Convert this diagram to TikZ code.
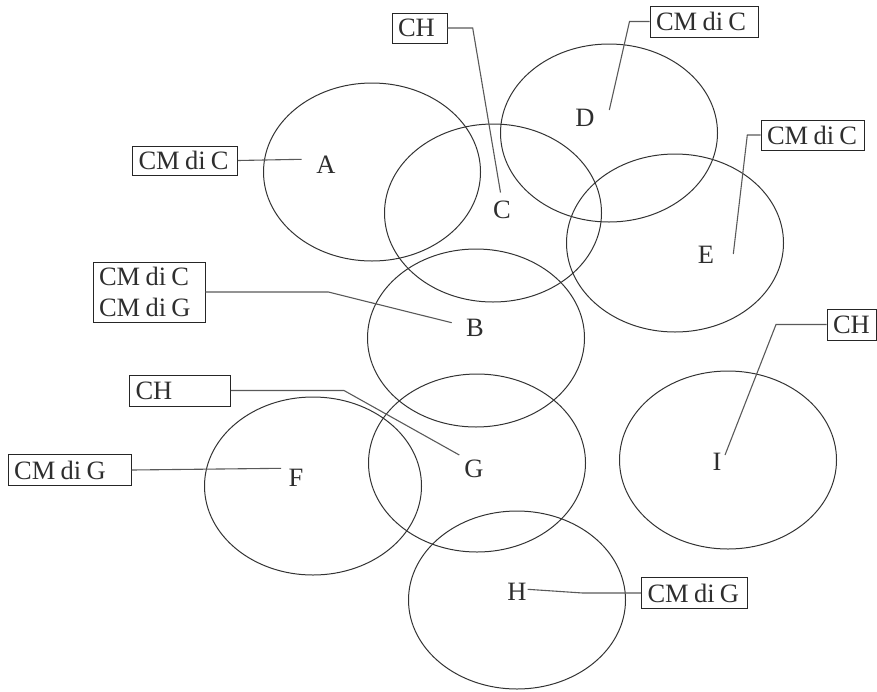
\documentclass[tikz,border=0pt]{standalone}
\usepackage{fontspec}
\setmainfont{Liberation Serif}
% tight word gap used inside the tag texts
\newcommand\wgap{\hspace{0.2em}}
\begin{document}
\begin{tikzpicture}[x=1pt,y=-1pt,
  set/.style={draw=black!80, line width=1pt},
  lbl/.style={text=black!82, inner sep=0pt, font=\fontsize{26.5}{31}\selectfont},
  tag/.style={draw=black!85, line width=0.9pt, text=black!82, inner xsep=6pt, inner ysep=0pt,
              align=left, font=\fontsize{26.5}{31}\selectfont},
  lead/.style={draw=black!65, line width=1.1pt}]
\useasboundingbox (0,0) rectangle (877,691);

% sets
\draw[set] (372,172) ellipse [x radius=108.5, y radius=89];   % A
\draw[set] (493,213) ellipse [x radius=108.5, y radius=89];   % C
\draw[set] (609,133) ellipse [x radius=108.5, y radius=89];   % D
\draw[set] (675,243) ellipse [x radius=108.5, y radius=89];   % E
\draw[set] (476,338) ellipse [x radius=108.5, y radius=89];   % B
\draw[set] (477,463) ellipse [x radius=108.5, y radius=89];   % G
\draw[set] (313,486) ellipse [x radius=108.5, y radius=89];   % F
\draw[set] (517,600) ellipse [x radius=108.5, y radius=89];   % H
\draw[set] (728,460) ellipse [x radius=108.5, y radius=89];   % I

% set letters
\node[lbl] (A) at (326,165) {A};
\node[lbl] (C) at (502,210) {C};
\node[lbl] (D) at (585,118) {D};
\node[lbl] (E) at (706,255) {E};
\node[lbl] (B) at (475,328) {B};
\node[lbl] (G) at (474,469) {G};
\node[lbl] (F) at (296,478) {F};
\node[lbl] (H) at (517,592) {H};
\node[lbl] (I) at (717,462) {I};

% tags
\node[tag, minimum width=55, minimum height=30, text width=43] (tC) at (419.5,28) {\mbox{CH}};
\node[tag, minimum width=108, minimum height=31, text width=96] (tD) at (704,21.5) {\mbox{CM\wgap di\wgap C}};
\node[tag, minimum width=103, minimum height=30, text width=91] (tE) at (812.5,135) {\mbox{CM\wgap di\wgap C}};
\node[tag, minimum width=105, minimum height=29, text width=93] (tA) at (185,160.5) {\mbox{CM\wgap di\wgap C}};
\node[tag, minimum width=112, minimum height=60, text width=100] (tB) at (149,292) {\mbox{CM\wgap di\wgap C}\\\mbox{CM\wgap di\wgap G}};
\node[tag, minimum width=101, minimum height=31, text width=89] (tG) at (180,390.5) {\mbox{CH}};
\node[tag, minimum width=123, minimum height=31, text width=111] (tF) at (69.7,470) {\mbox{CM\wgap di\wgap G}};
\node[tag, minimum width=49, minimum height=31, text width=37] (tI) at (851.5,324.5) {\mbox{CH}};
\node[tag, minimum width=106, minimum height=31, text width=94] (tH) at (694.5,593) {\mbox{CM\wgap di\wgap G}};

% free ends of the leader lines
\coordinate (eC) at (500.5,192.5);
\coordinate (eD) at (609.3,110);
\coordinate (eE) at (733.3,254);
\coordinate (eA) at (301.7,159.3);
\coordinate (eB) at (451.7,322.7);
\coordinate (eG) at (459.3,455);
\coordinate (eF) at (281,468.3);
\coordinate (eI) at (725,455);
\coordinate (eH) at (527.7,589.3);

% leader lines
\draw[lead] (tC.east) -- (472.7,28) -- (eC);
\draw[lead] (tD.west) -- (629.5,21.5) -- (eD);
\draw[lead] (tE.west) -- (747.3,135) -- (eE);
\draw[lead] (tA.east) -- (eA);
\draw[lead] (tB.east) -- (328.3,292) -- (eB);
\draw[lead] (tG.east) -- (344,390.5) -- (eG);
\draw[lead] (tF.east) -- (eF);
\draw[lead] (tI.west) -- (776,324.5) -- (eI);
\draw[lead] (tH.west) -- (582.7,593) -- (eH);
\end{tikzpicture}
\end{document}
